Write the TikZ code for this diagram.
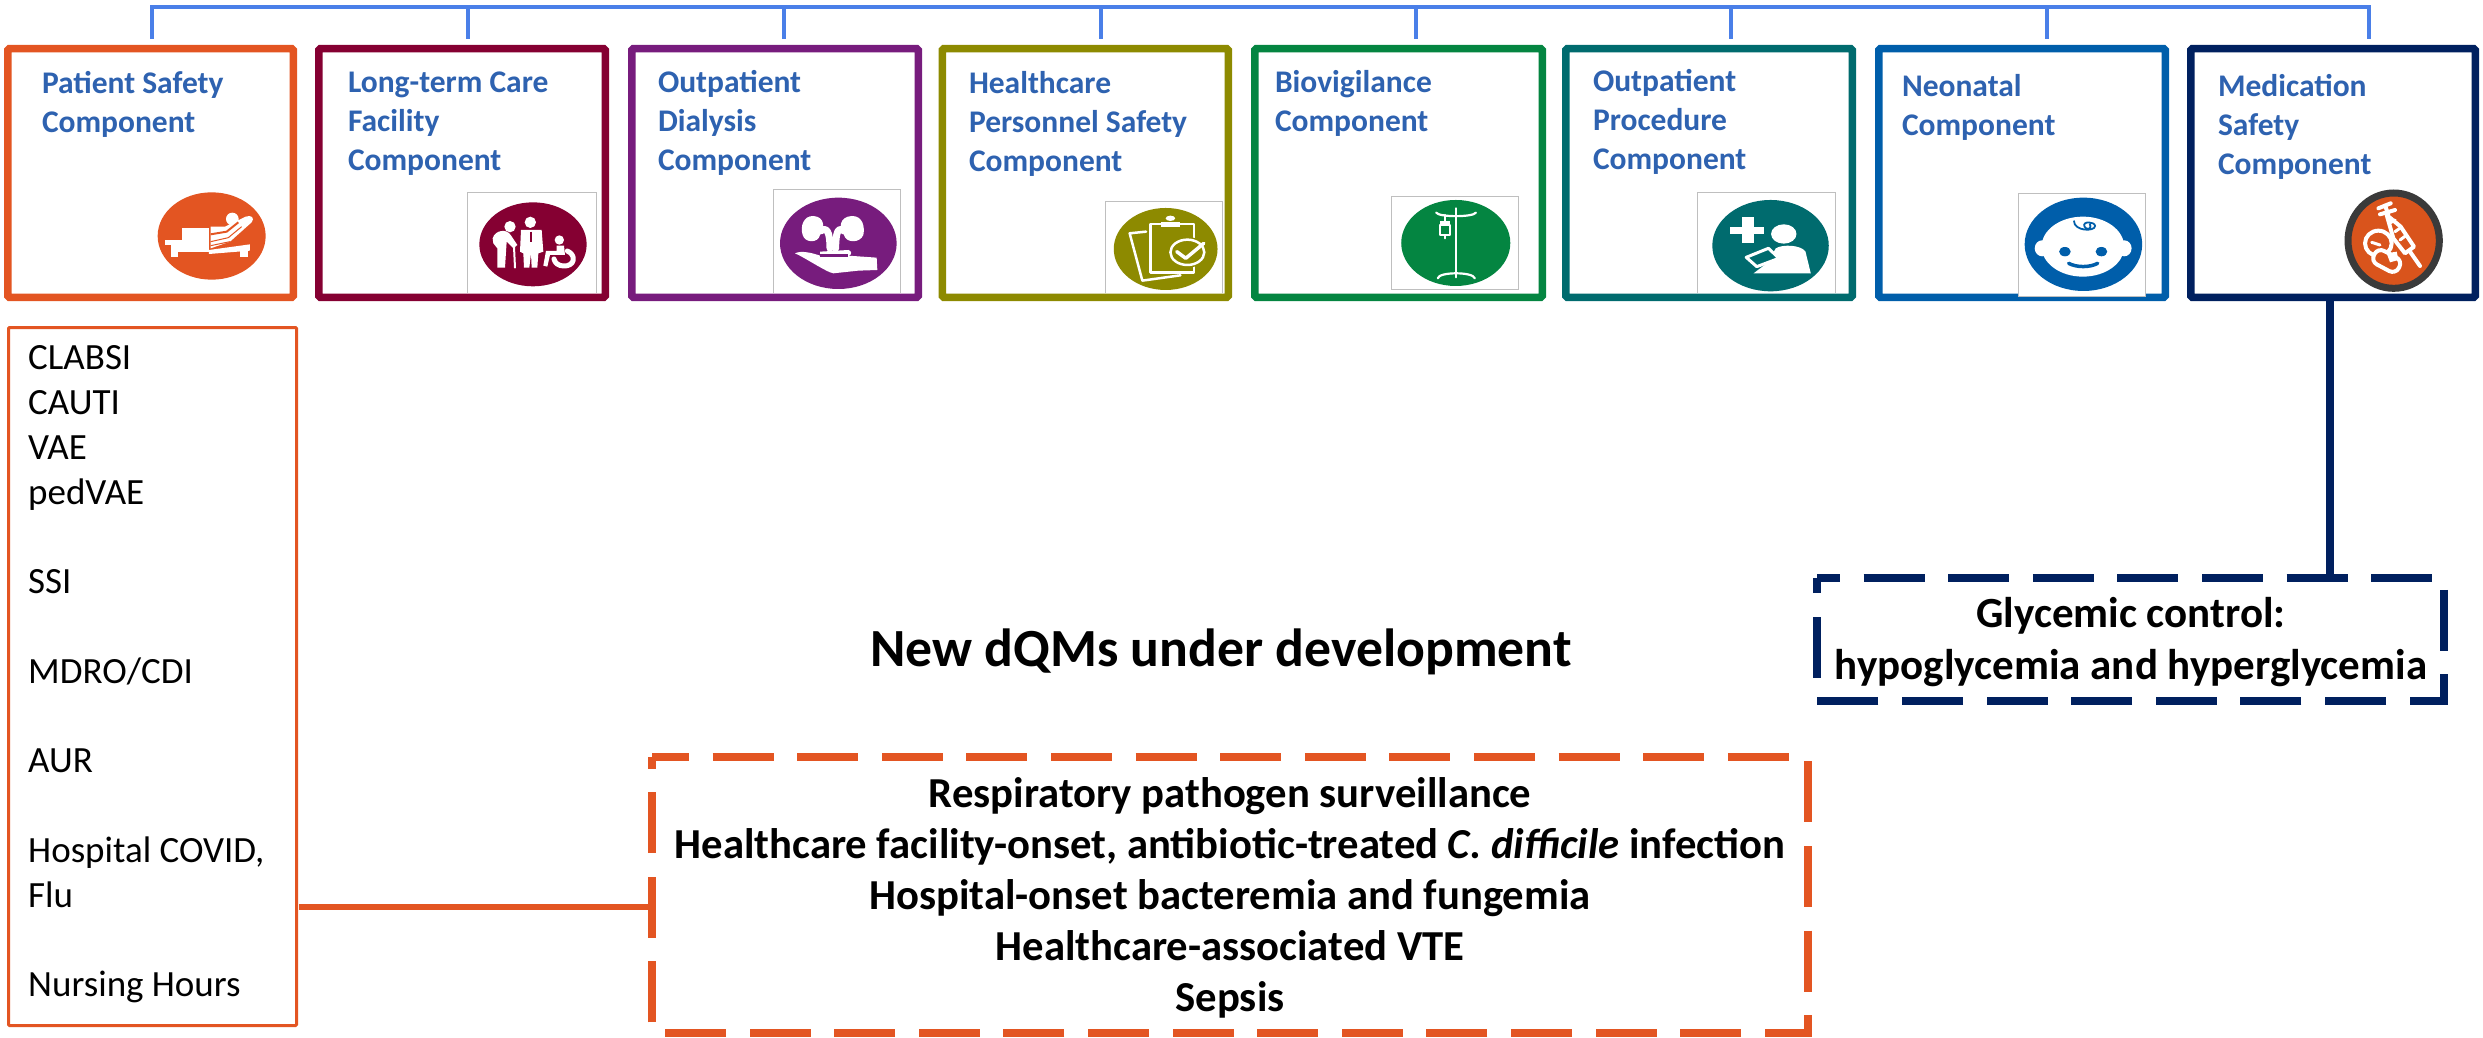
\documentclass[tikz,border=0pt]{standalone}
\usepackage{fontspec}
\usetikzlibrary{calc}
\setmainfont{Carlito}
\definecolor{cOrange}{HTML}{E35522}
\definecolor{cMaroon}{HTML}{850032}
\definecolor{cPurple}{HTML}{771C7D}
\definecolor{cOlive}{HTML}{8D8A00}
\definecolor{cGreen}{HTML}{048541}
\definecolor{cTeal}{HTML}{006B6E}
\definecolor{cBlue}{HTML}{005EAA}
\definecolor{cNavy}{HTML}{00205F}
\definecolor{cLink}{HTML}{4A7FE8}
\definecolor{cLabel}{HTML}{2E62B0}
\definecolor{cFrame}{HTML}{BFBFBF}
\definecolor{cDrug}{HTML}{D9541C}
\definecolor{cRim}{HTML}{3A3A3A}
\tikzset{
 comp/.style={draw=#1,line width=7.5pt,fill=white,minimum height=248.5pt,inner sep=0pt,outer sep=3.75pt,rounded corners=1.5pt},
 lab/.style={anchor=north west,align=left,inner sep=0pt,outer sep=0pt,text=cLabel,font=\fontsize{31.5}{39}\selectfont\bfseries},
 frame/.style={draw=cFrame,line width=0.8pt},
 trunk/.style={draw=cLink,line width=4pt},
 dbox/.style={line width=8pt,dash pattern=on 61pt off 23.6pt,miter limit=10},
 bold/.style={align=center,inner sep=0pt,outer sep=0pt,font=\fontsize{#1}{#1}\selectfont\bfseries},
 wl/.style={draw=white,line width=#1,line cap=round,line join=round},
}
\newcommand{\Comp}[4]{% name, left, right, colour
 \node[comp=#4,minimum width=#3pt-#2pt-7.5pt] (#1) at ({(#2+#3)/2},173) {};
}
\begin{document}
\begin{tikzpicture}[x=1pt,y=-1pt]
\useasboundingbox (0,0) rectangle (2483,1038);

% component boxes
\Comp{b1}{4}{297}{cOrange}
\Comp{b2}{315}{609}{cMaroon}
\Comp{b3}{628}{922}{cPurple}
\Comp{b4}{938.5}{1232}{cOlive}
\Comp{b5}{1251}{1546}{cGreen}
\Comp{b6}{1562}{1856}{cTeal}
\Comp{b7}{1875}{2169}{cBlue}
\Comp{b8}{2187}{2479}{cNavy}

% bracket on top
\coordinate (t1) at (152,7);
\coordinate (t2) at (468,7);
\coordinate (t3) at (784,7);
\coordinate (t4) at (1100.5,7);
\coordinate (t5) at (1415.5,7);
\coordinate (t6) at (1731,7);
\coordinate (t7) at (2047,7);
\coordinate (t8) at (2369,7);
\draw[trunk] ([xshift=-2pt]t1) -- ([xshift=2pt]t8);
\foreach \n in {1,...,8}{
  \coordinate (e\n) at ($(t\n)+(0,32)$);
  \draw[trunk] (t\n) -- (e\n);
}

% labels
\node[lab] (l1) at (42,71.5) {Patient Safety\\Component};
\node[lab] (l2) at (348,71.5) {Long-term Care\\Facility\\Component};
\node[lab] (l3) at (658,70.5) {Outpatient\\Dialysis\\Component};
\node[lab] (l4) at (969,71.5) {Healthcare\\Personnel Safety\\Component};
\node[lab] (l5) at (1275,70.5) {Biovigilance\\Component};
\node[lab] (l6) at (1593,69.5) {Outpatient\\Procedure\\Component};
\node[lab] (l7) at (1902,74.5) {Neonatal\\Component};
\node[lab] (l8) at (2218,74.5) {Medication\\Safety\\Component};

% --- icon frames
\draw[frame] (467,293) -- (467,192) -- (596,192) -- (596,293);
\draw[frame] (773,293) -- (773,189) -- (900,189) -- (900,293);
\draw[frame] (1105,293) -- (1105,201) -- (1222,201) -- (1222,293);
\draw[frame] (1391,196) rectangle (1518,289.5);
\draw[frame] (1697,293) -- (1697,192) -- (1835,192) -- (1835,293);
\draw[frame,fill=white] (2018,193) rectangle (2145,296);

% --- icon 1 bed (crop coords)
\begin{scope}[shift={(145,185)},x=0.3333pt,y=-0.3333pt]
 \fill[cOrange] (200,153) ellipse [x radius=162,y radius=131];
 \fill[white] (112,128) rectangle (192,200);
 \fill[white] (60,165) rectangle (112,180);
 \fill[white] (78,165) rectangle (112,200);
 \fill[white] (78,200) rectangle (100,215);
 \fill[white] (192,195) -- (315,178) -- (315,197) -- (192,207) -- cycle;
 \fill[white] (285,195) rectangle (310,215);
 \fill[white] (197,125) -- (240,125) -- (302,95) .. controls (320,88) and (330,100) .. (320,112) -- (255,170) -- (197,190) -- cycle;
 \fill[white] (262,102) circle [radius=19];
 \draw[cOrange,line width=2pt] (197,148) -- (245,140) -- (280,112);
 \draw[cOrange,line width=1pt] (197,170) -- (250,158) -- (290,125);
 \draw[cOrange,line width=1pt] (197,182) -- (255,170);
\end{scope}

% --- icon 2 people
\begin{scope}[shift={(460,185)},x=0.3333pt,y=-0.3333pt]
 \fill[cMaroon] (219,178) ellipse [x radius=161,y radius=126];
 \fill[white] (150,125) circle [radius=17];
 \fill[white] (98,160) .. controls (105,135) and (140,130) .. (152,150) -- (172,180) -- (160,190) -- (140,170) -- (135,248) -- (112,248) -- (112,190) -- (100,175) -- cycle;
 \draw[wl=2pt] (162,185) -- (165,248);
 \fill[white] (211,112) circle [radius=17];
 \fill[white] (183,135) -- (245,135) -- (250,200) -- (235,205) -- (232,248) -- (215,248) -- (213,205) -- (208,248) -- (192,248) -- (190,205) -- (180,200) -- cycle;
 \draw[cMaroon,line width=2pt] (213,140) -- (213,170);
 \fill[white] (298,165) circle [radius=14];
 \fill[white] (290,182) -- (312,182) -- (315,210) -- (270,210) -- (262,245) -- (250,242) -- (258,198) -- (290,198) -- cycle;
 \draw[wl=5pt] (322,198) .. controls (350,210) and (345,245) .. (310,243) .. controls (295,242) and (285,235) .. (282,222);
\end{scope}

% --- icon 3 kidneys
\begin{scope}[shift={(770,185)},x=0.3333pt,y=-0.3333pt]
 \fill[cPurple] (205,175) ellipse [x radius=175,y radius=137];
 \fill[white] (150,150) .. controls (165,130) and (165,95) .. (130,93) .. controls (100,92) and (90,125) .. (98,150) .. controls (105,175) and (145,175) .. (150,150) -- cycle;
 \fill[white] (222,150) .. controls (205,130) and (208,95) .. (245,93) .. controls (278,92) and (285,125) .. (280,150) .. controls (270,175) and (228,175) .. (222,150) -- cycle;
 \draw[wl=7pt] (152,138) .. controls (170,125) and (180,140) .. (180,190);
 \draw[wl=7pt] (222,138) .. controls (205,125) and (197,140) .. (197,190);
 \fill[white] (150,200) -- (235,195) .. controls (245,197) and (248,210) .. (235,212) -- (320,218) -- (322,255) -- (265,257) -- (190,265) .. controls (170,262) and (100,215) .. (75,205) .. controls (95,195) and (130,205) .. (150,212) -- cycle;
 \draw[cPurple,line width=2.5pt] (150,212) -- (235,212);
\end{scope}

% --- icon 4 clipboard
\begin{scope}[shift={(830,0)},x=0.5294pt,y=-0.3333pt]
 \fill[cOlive] (634,747) ellipse [x radius=98,y radius=123];
 \draw[wl=2.5pt] (597,695) -- (566,700) -- (590,842) -- (662,826);
 \draw[wl=2.5pt] (605,672) -- (688,672) -- (688,818) -- (605,818) -- cycle;
 \fill[white] (625,665) rectangle (662,680);
 \fill[white] (643,655) ellipse [x radius=9,y radius=8];
 \fill[cOlive] (675,757) ellipse [x radius=38,y radius=46];
 \draw[wl=2.5pt] (675,757) ellipse [x radius=32,y radius=38];
 \draw[wl=3.5pt] (655,755) -- (672,775) -- (706,730);
\end{scope}

% --- icon 5 IV pole
\begin{scope}[shift={(830,0)},x=0.5294pt,y=-0.3333pt]
 \fill[cGreen] (1182,729) ellipse [x radius=103,y radius=129];
 \draw[wl=2.2pt] (1182,625) -- (1182,832);
 \draw[wl=2.2pt] (1145,638) .. controls (1150,652) and (1215,652) .. (1220,638);
 \draw[wl=2.2pt] (1148,835) .. controls (1150,815) and (1215,815) .. (1218,835);
 \draw[wl=2pt] (1152,675) rectangle (1172,705);
 \draw[wl=2pt] (1162,705) -- (1162,715);
 \draw[wl=2pt] (1162,645) -- (1162,675);
 \fill[white] (1152,662) rectangle (1172,675);
\end{scope}

% --- icon 6 clinician
\begin{scope}[shift={(1653,0)},x=0.5294pt,y=-0.3333pt]
 \fill[cTeal] (222,737) ellipse [x radius=110,y radius=137];
 \fill[white] (168,652) rectangle (190,730);
 \fill[white] (146,680) rectangle (210,702);
 \fill[white] (247,702) ellipse [x radius=24,y radius=29];
 \fill[white] (190,820) -- (215,790) -- (232,745) .. controls (245,732) and (280,735) .. (288,755) -- (298,820) -- cycle;
 \draw[wl=3pt,fill=cTeal] (176,772) -- (218,745) -- (238,775) -- (196,800) -- cycle;
\end{scope}

% --- icon 7 baby
\begin{scope}[shift={(1653,0)},x=0.5294pt,y=-0.3333pt]
 \fill[cBlue] (813,733) ellipse [x radius=111,y radius=140];
 \fill[white] (812,740) ellipse [x radius=78,y radius=90];
 \fill[white] (735,745) ellipse [x radius=14,y radius=24];
 \fill[white] (890,745) ellipse [x radius=14,y radius=24];
 \fill[cBlue] (778,755) ellipse [x radius=11,y radius=14];
 \fill[cBlue] (847,755) ellipse [x radius=11,y radius=14];
 \draw[cBlue,line width=3.5pt,line cap=round] (785,790) .. controls (800,803) and (825,803) .. (840,790);
 \draw[cBlue,line width=1.8pt] (795,662) .. controls (795,695) and (835,695) .. (835,678) .. controls (835,665) and (810,662) .. (815,680) .. controls (818,690) and (830,690) .. (825,672);
\end{scope}

% --- icon 8 medication
\begin{scope}[shift={(2330,185)},x=0.3333pt,y=-0.3333pt]
 \filldraw[fill=cDrug,draw=cRim,line width=7pt] (191,167) ellipse [x radius=137,y radius=143];
 \draw[wl=4pt] (145,70) -- (182,55);
 \draw[wl=4pt] (165,62) -- (175,88);
 \draw[wl=4pt] (150,88) -- (195,75);
 \draw[wl=4pt] (170,90) -- (212,125) -- (252,185) -- (225,205) -- (190,160) -- cycle;
 \draw[wl=3pt] (178,115) -- (195,105);
 \draw[wl=3pt] (195,140) -- (212,128);
 \draw[wl=3pt] (210,165) -- (230,150);
 \draw[wl=4pt] (240,200) -- (270,243);
 \draw[wl=4pt,fill=cDrug] (145,175) ellipse [x radius=40,y radius=38];
 \draw[wl=3pt] (125,172) -- (150,180);
 \draw[wl=4pt,fill=cDrug,rounded corners=7pt,rotate around={-28:(170,228)}] (128,205) rectangle (212,251);
 \fill[white] (170,205) -- (200,200) -- (205,225) -- (180,232) -- cycle;
\end{scope}

% list box
\node[draw=cOrange,line width=3pt,fill=white,minimum width=288pt,minimum height=698pt,inner sep=0pt,outer sep=1.5pt,rounded corners=1pt] (list) at (152.5,676.5) {};
\node[anchor=north west,align=left,inner sep=0pt,font=\fontsize{37}{44.8}\selectfont] (listtxt) at (28,345.5)
 {CLABSI\\CAUTI\\VAE\\pedVAE\\ \\SSI\\ \\MDRO/CDI\\ \\AUR\\ \\Hospital COVID,\\Flu\\ \\Nursing Hours};

% heading
\node[bold=53.7] (head) at (1221,652) {New dQMs under development};

% dashed orange
\node[inner sep=0pt,outer sep=0pt,minimum width=1156pt,minimum height=276pt] (dqm) at (1230,895) {};
\draw[cOrange,dbox,dash phase=24pt] (dqm.north west) -- (dqm.north east) -- (dqm.south east) -- (dqm.south west) -- cycle;
\node[bold=36,font=\fontsize{42.7}{51}\selectfont\bfseries,anchor=north] (dqmtxt) at (1230,778)
 {Respiratory pathogen surveillance\\Healthcare facility-onset, antibiotic-treated \textit{C. difficile} infection\\Hospital-onset bacteremia and fungemia\\Healthcare-associated VTE\\Sepsis};

% dashed navy
\node[inner sep=0pt,outer sep=0pt,minimum width=627pt,minimum height=123pt] (gly) at (2130.5,639.5) {};
\draw[cNavy,dbox,dash phase=38pt] (gly.north west) -- (gly.north east) -- (gly.south east) -- (gly.south west) -- cycle;
\node[bold=36,font=\fontsize{43}{52}\selectfont\bfseries,anchor=north] (glytxt) at (2131,597)
 {Glycemic control:\\hypoglycemia and hyperglycemia};

% connectors
\coordinate (cv) at (2330,0);
\draw[cNavy,line width=7.5pt] (b8.south -| cv) -- (gly.north -| cv);
\coordinate (ch) at (0,907);
\draw[cOrange,line width=6.5pt] ([xshift=1pt]list.east |- ch) -- (dqm.west |- ch);
\end{tikzpicture}
\end{document}
